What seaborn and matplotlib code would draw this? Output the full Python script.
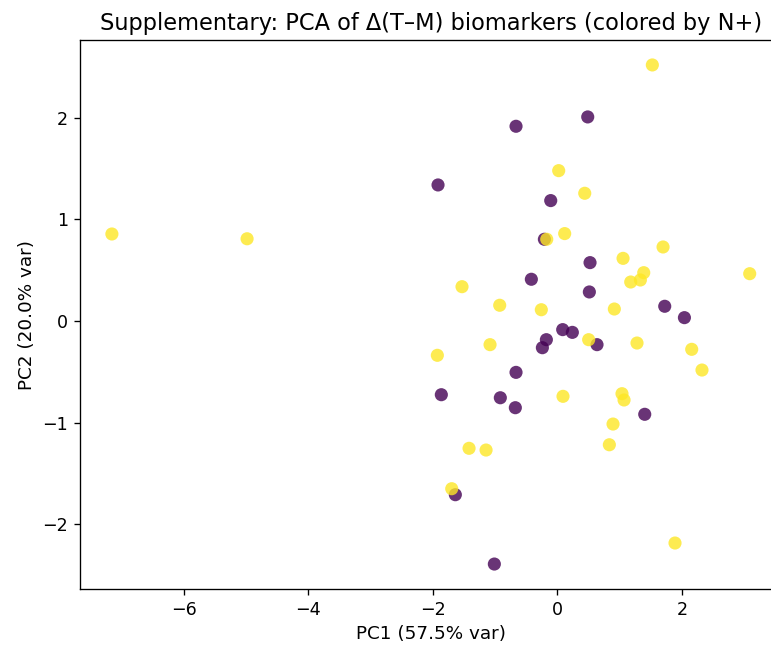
import matplotlib
matplotlib.use("Agg")
import matplotlib.pyplot as plt
import seaborn as sns
import pandas as pd

# N+ = 0 (purple)
pc1_neg = [0.488, -0.663, -1.915, -0.106, -0.208, 0.525, -0.417, 0.514, 1.724, 2.04,
           0.086, 0.241, -0.176, -0.24, 0.637, -0.663, -1.862, -0.915, -0.674, 1.403,
           -1.637, -1.011]
pc2_neg = [2.010, 1.918, 1.340, 1.186, 0.805, 0.575, 0.411, 0.286, 0.145, 0.033,
           -0.085, -0.112, -0.184, -0.263, -0.233, -0.506, -0.726, -0.756, -0.854, -0.919,
           -1.711, -2.394]

# N+ = 1 (yellow)
pc1_pos = [-7.15, -4.98, 1.525, 0.022, 0.44, -0.17, 0.118, 1.697, 1.055, 1.387,
           1.333, 1.178, 3.088, -1.53, -0.925, -0.257, 0.915, 0.503, 1.279, 2.157,
           2.322, -1.08, -1.926, 0.091, 1.038, 1.071, 0.894, 0.835, -1.417, -1.144,
           -1.695, 1.889]
pc2_pos = [0.857, 0.81, 2.522, 1.481, 1.258, 0.805, 0.861, 0.729, 0.617, 0.476,
           0.404, 0.384, 0.466, 0.338, 0.155, 0.111, 0.118, -0.184, -0.217, -0.279,
           -0.483, -0.233, -0.338, -0.742, -0.716, -0.778, -1.015, -1.219, -1.254, -1.271,
           -1.652, -2.187]

df = pd.DataFrame({
    "PC1": pc1_neg + pc1_pos,
    "PC2": pc2_neg + pc2_pos,
    "N+": [0] * len(pc1_neg) + [1] * len(pc1_pos),
})

sns.set_style("ticks")
plt.rcParams['font.family'] = ['DejaVu Sans']
plt.rcParams['text.color'] = 'black'
plt.rcParams['axes.labelcolor'] = 'black'
plt.rcParams['xtick.color'] = 'black'
plt.rcParams['ytick.color'] = 'black'

fig = plt.figure(figsize=(771 / 120, 646 / 120), dpi=120)
ax = fig.add_axes([80 / 771, 1 - 589 / 646, 701.6 / 771, 549 / 646])

vir = matplotlib.colormaps["viridis"]
palette = {0: vir(0.0), 1: vir(1.0)}

sns.scatterplot(data=df, x="PC1", y="PC2", hue="N+", palette=palette,
                s=62, alpha=0.8, linewidth=0, legend=False, ax=ax)

ax.set_xlabel("PC1 (57.5% var)", fontsize=11, color="black")
ax.set_ylabel("PC2 (20.0% var)", fontsize=11, color="black")
ax.set_title("Supplementary: PCA of Δ(T–M) biomarkers (colored by N+)",
             fontsize=13.5, pad=6, color="black")
ax.set_xticks([-6, -4, -2, 0, 2])
ax.set_yticks([-2, -1, 0, 1, 2])
for sp in ax.spines.values():
    sp.set_visible(True)
    sp.set_color("black")
    sp.set_linewidth(0.8)
ax.spines["right"].set_visible(False)
ax.tick_params(colors="black", labelcolor="black", length=3.5, width=0.8, labelsize=10.5)

fig.savefig("out.png", dpi=120)
